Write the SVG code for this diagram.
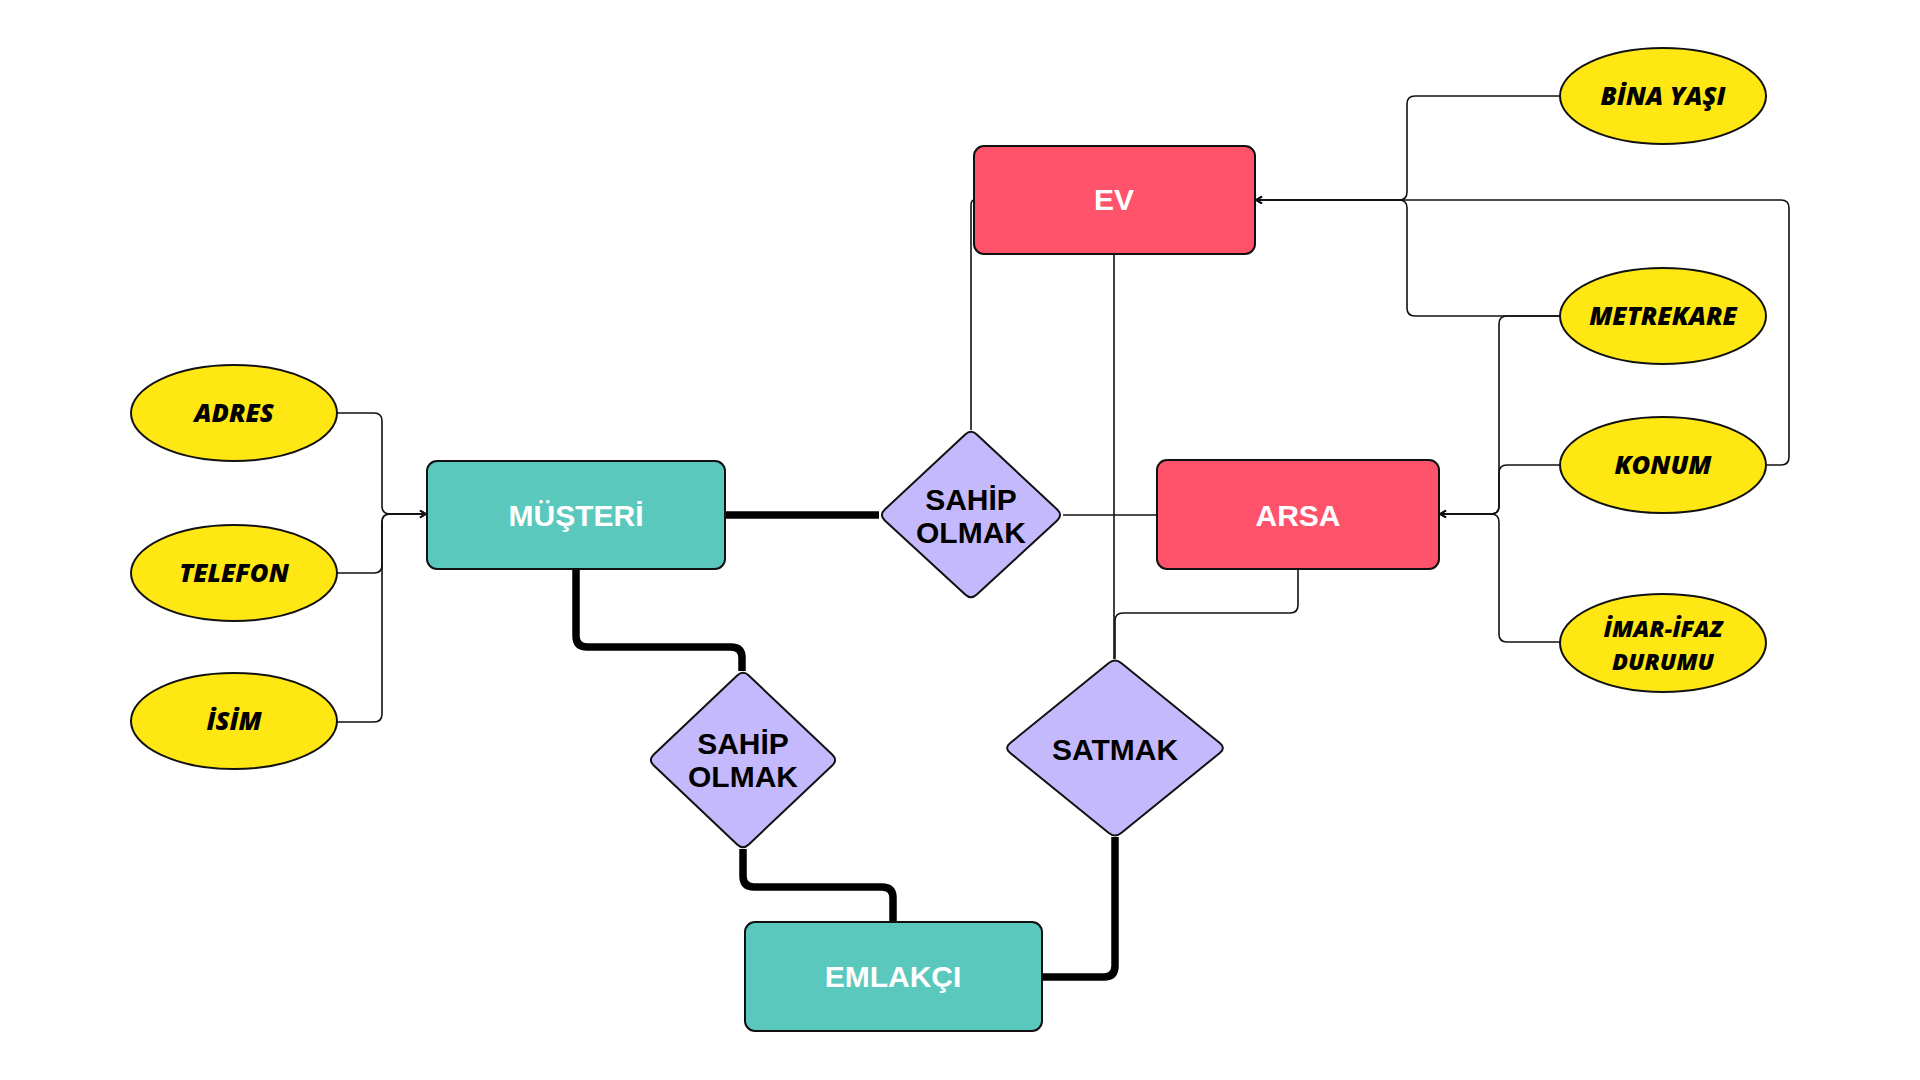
<svg xmlns="http://www.w3.org/2000/svg" width="1920" height="1080" viewBox="0 0 1920 1080">
<style>
.ent{stroke:#111;stroke-width:2}
.teal{fill:#5bc8bd}
.red{fill:#ff526b}
.rel{fill:#c5b9fd;stroke:#111;stroke-width:2}
.attr{fill:#ffe714;stroke:#111;stroke-width:2}
.et{font-family:"Liberation Sans",Arial,sans-serif;font-weight:700;font-size:30px;fill:#fff;text-anchor:middle}
.rt{font-family:"Liberation Sans",Arial,sans-serif;font-weight:700;font-size:30px;fill:#000;text-anchor:middle}
.at{font-family:"Open Sans",sans-serif;font-weight:800;font-style:italic;font-size:25.5px;fill:#000;text-anchor:middle}
.at2{font-size:23.5px}
.thin{fill:none;stroke:#111;stroke-width:1.6}
.thick{fill:none;stroke:#000;stroke-width:7.5}
</style>
<defs>
<marker id="arr" markerWidth="10" markerHeight="10" refX="7" refY="4" orient="auto" markerUnits="userSpaceOnUse">
<path d="M1,0.5 L7,4 L1,7.5" fill="none" stroke="#111" stroke-width="1.6"/>
</marker>
</defs>
<rect width="1920" height="1080" fill="#fff"/>
<g id="connectors">
<path class="thin" marker-end="url(#arr)" d="M337 413 H374 Q382 413 382 421 V506 Q382 514 390 514 H426"/>
<path class="thin" marker-end="url(#arr)" d="M337 573 H374 Q382 573 382 565 V522 Q382 514 390 514 H426"/>
<path class="thin" marker-end="url(#arr)" d="M337 722 H374 Q382 722 382 714 V522 Q382 514 390 514 H426"/>
<path class="thin" marker-end="url(#arr)" d="M1560 96 H1415 Q1407 96 1407 104 V192 Q1407 200 1399 200 H1256"/>
<path class="thin" marker-end="url(#arr)" d="M1560 316 H1415 Q1407 316 1407 308 V208 Q1407 200 1399 200 H1256"/>
<path class="thin" marker-end="url(#arr)" d="M1766 465 H1781 Q1789 465 1789 457 V208 Q1789 200 1781 200 H1256"/>
<path class="thin" marker-end="url(#arr)" d="M1560 316 H1507 Q1499 316 1499 324 V506 Q1499 514 1491 514 H1440"/>
<path class="thin" marker-end="url(#arr)" d="M1560 465 H1507 Q1499 465 1499 473 V506 Q1499 514 1491 514 H1440"/>
<path class="thin" marker-end="url(#arr)" d="M1560 642 H1507 Q1499 642 1499 634 V522 Q1499 514 1491 514 H1440"/>
<path class="thin" d="M974 200 Q971 200 971 206 V430"/>
<path class="thin" d="M1114 254 V659"/>
<path class="thin" d="M1298 569 V605 Q1298 613 1290 613 H1123 Q1115 613 1115 621 V659"/>
<path class="thin" d="M1063 515 H1157"/>
<path class="thick" d="M725 515 H879"/>
<path class="thick" d="M576 569 V636 Q576 647 587 647 H731 Q742 647 742 658 V671"/>
<path class="thick" d="M743 849 V876 Q743 887 754 887 H882 Q893 887 893 898 V922"/>
<path class="thick" d="M1115 837 V966 Q1115 977 1104 977 H1042"/>
</g>
<g id="adres"><ellipse class="attr" cx="234" cy="413" rx="103" ry="48"/><text class="at" x="234" y="422">ADRES</text></g>
<g id="telefon"><ellipse class="attr" cx="234" cy="573" rx="103" ry="48"/><text class="at" x="234" y="582">TELEFON</text></g>
<g id="isim"><ellipse class="attr" cx="234" cy="721" rx="103" ry="48"/><text class="at" x="234" y="730">İSİM</text></g>
<g id="bina-yasi"><ellipse class="attr" cx="1663" cy="96" rx="103" ry="48"/><text class="at" x="1663" y="105">BİNA YAŞI</text></g>
<g id="metrekare"><ellipse class="attr" cx="1663" cy="316" rx="103" ry="48"/><text class="at" x="1663" y="325">METREKARE</text></g>
<g id="konum"><ellipse class="attr" cx="1663" cy="465" rx="103" ry="48"/><text class="at" x="1663" y="474">KONUM</text></g>
<g id="imar"><ellipse class="attr" cx="1663" cy="643" rx="103" ry="49"/><text class="at at2"><tspan x="1663" y="637">İMAR-İFAZ</tspan><tspan x="1663" y="670">DURUMU</tspan></text></g>
<g id="musteri"><rect class="ent teal" x="427" y="461" width="298" height="108" rx="10"/><text class="et" x="576" y="526">MÜŞTERİ</text></g>
<g id="ev"><rect class="ent red" x="974" y="146" width="281" height="108" rx="10"/><text class="et" x="1114" y="210">EV</text></g>
<g id="arsa"><rect class="ent red" x="1157" y="460" width="282" height="109" rx="10"/><text class="et" x="1298" y="526">ARSA</text></g>
<g id="emlakci"><rect class="ent teal" x="745" y="922" width="297" height="109" rx="10"/><text class="et" x="893" y="987">EMLAKÇI</text></g>
<g id="sahip-olmak-1"><path class="rel" d="M965.2 434.5 Q971 429 976.8 434.5 L1057.2 509.5 Q1063 515 1057.2 520.5 L976.8 594.5 Q971 600 965.2 594.5 L884.8 520.5 Q879 515 884.8 509.5 Z"/><text class="rt"><tspan x="971" y="510">SAHİP</tspan><tspan x="971" y="543">OLMAK</tspan></text></g>
<g id="sahip-olmak-2"><path class="rel" d="M737.2 675.5 Q743 670 748.8 675.5 L832.2 754.5 Q838 760 832.2 765.5 L748.8 844.5 Q743 850 737.2 844.5 L653.8 765.5 Q648 760 653.8 754.5 Z"/><text class="rt"><tspan x="743" y="754">SAHİP</tspan><tspan x="743" y="787">OLMAK</tspan></text></g>
<g id="satmak"><path class="rel" d="M1108.8 663 Q1115 658 1121.2 663 L1219.8 743 Q1226 748 1219.8 753 L1121.2 833 Q1115 838 1108.8 833 L1010.2 753 Q1004 748 1010.2 743 Z"/><text class="rt" x="1115" y="760">SATMAK</text></g>
</svg>
